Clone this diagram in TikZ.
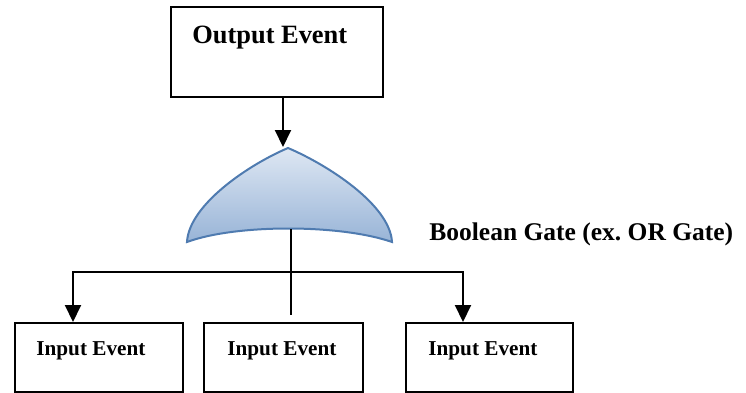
\documentclass[tikz,border=0pt]{standalone}
\usepackage{fontspec}
\setmainfont{Liberation Serif}
\usetikzlibrary{arrows.meta}

\definecolor{gateedge}{RGB}{79,123,176}
\definecolor{gatetop}{RGB}{222,231,243}
\definecolor{gatebot}{RGB}{152,180,215}

\tikzset{
  evbox/.style={draw, line width=1pt, inner sep=0pt, minimum height=34.5pt},
  bigtxt/.style={anchor=base west, inner sep=0pt, font=\fontsize{13.2}{16}\selectfont\bfseries},
  smalltxt/.style={anchor=base west, inner sep=0pt, font=\fontsize{10.6}{13}\selectfont\bfseries},
  link/.style={line width=1pt},
  arr/.style={link, -{Triangle[length=8.5pt,width=8pt]}},
  gatefill/.style={draw=gateedge, line width=1pt, top color=gatetop, bottom color=gatebot}
}

\begin{document}
\begin{tikzpicture}[x=0.5pt, y=-0.5pt]
  \useasboundingbox (0,0) rectangle (746,392);

  % output event
  \node[evbox, minimum width=106pt, minimum height=45pt] (out) at (277,52) {};
  \node[bigtxt] (outlbl) at (192,43) {Output Event};

  % gate
  \coordinate (gtop) at (288,148);
  \coordinate (gbot) at (291,229);
  \coordinate (gl) at (187,242);
  \coordinate (gr) at (392,242);
  \coordinate (gin) at (283,147);
  \draw[gatefill] (gl) .. controls (189,205) and (248,165) .. (gtop)
    .. controls (328,165) and (390,205) .. (gr)
    .. controls (340,224) and (236,224) .. (gl) -- cycle;
  \node[bigtxt, font=\fontsize{12.75}{15}\selectfont\bfseries] (gatelbl) at (429,240) {Boolean Gate (ex.\ OR Gate)};

  % input events
  \node[evbox, minimum width=84pt] (in1) at (99,357.5) {};
  \node[evbox, minimum width=79.5pt] (in2) at (283.5,357.5) {};
  \node[evbox, minimum width=83.5pt] (in3) at (489.5,357.5) {};
  \node[smalltxt] (lbl1) at (36,355) {Input Event};
  \node[smalltxt] (lbl2) at (227,355) {Input Event};
  \node[smalltxt] (lbl3) at (428,355) {Input Event};

  % connectors
  \coordinate (hl) at (73,272);
  \coordinate (hr) at (463,272);
  \coordinate (tail) at (291,315);
  \draw[arr] (out.south -| gin) -- (gin);
  \draw[link] (gbot) -- (tail);
  \draw[link, {Triangle[length=8.5pt,width=8pt]}-{Triangle[length=8.5pt,width=8pt]}]
    (hl |- in1.north) -- (hl) -- (hr) -- (hr |- in3.north);
\end{tikzpicture}
\end{document}
